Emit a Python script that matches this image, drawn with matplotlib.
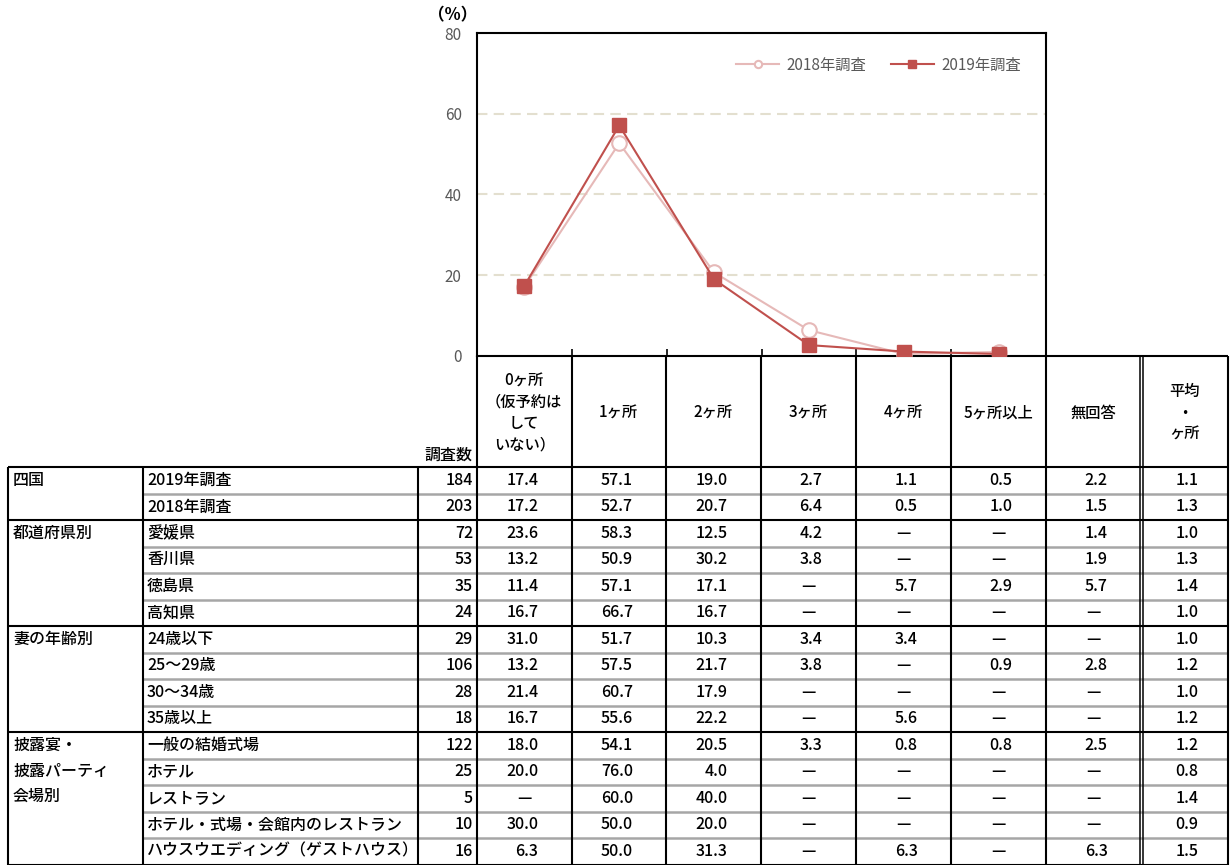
import matplotlib
matplotlib.use("Agg")
import matplotlib.pyplot as plt

plt.rcParams['font.family'] = ['Noto Sans CJK JP', 'DejaVu Sans']

# chart categories / table columns
cats = ["0ヶ所", "1ヶ所", "2ヶ所", "3ヶ所", "4ヶ所", "5ヶ所以上"]
head_labels = ["0ヶ所\n（仮予約は\nして\nいない）", "1ヶ所", "2ヶ所", "3ヶ所",
               "4ヶ所", "5ヶ所以上", "無回答", "平均\n・\nヶ所"]

groups = ["四国", "都道府県別", "妻の年齢別", "披露宴・\n披露パーティ\n会場別"]
group_sizes = [2, 4, 4, 5]
row_labels = ["2019年調査", "2018年調査", "愛媛県", "香川県", "徳島県", "高知県",
              "24歳以下", "25～29歳", "30～34歳", "35歳以上",
              "一般の結婚式場", "ホテル", "レストラン",
              "ホテル・式場・会館内のレストラン", "ハウスウエディング（ゲストハウス）"]
n_resp = [184, 203, 72, 53, 35, 24, 29, 106, 28, 18, 122, 25, 5, 10, 16]

# None = "—"
col_0 = [17.4, 17.2, 23.6, 13.2, 11.4, 16.7, 31.0, 13.2, 21.4, 16.7, 18.0, 20.0, None, 30.0, 6.3]
col_1 = [57.1, 52.7, 58.3, 50.9, 57.1, 66.7, 51.7, 57.5, 60.7, 55.6, 54.1, 76.0, 60.0, 50.0, 50.0]
col_2 = [19.0, 20.7, 12.5, 30.2, 17.1, 16.7, 10.3, 21.7, 17.9, 22.2, 20.5, 4.0, 40.0, 20.0, 31.3]
col_3 = [2.7, 6.4, 4.2, 3.8, None, None, 3.4, 3.8, None, None, 3.3, None, None, None, None]
col_4 = [1.1, 0.5, None, None, 5.7, None, 3.4, None, None, 5.6, 0.8, None, None, None, 6.3]
col_5 = [0.5, 1.0, None, None, 2.9, None, None, 0.9, None, None, 0.8, None, None, None, None]
col_na = [2.2, 1.5, 1.4, 1.9, 5.7, None, None, 2.8, None, None, 2.5, None, None, None, 6.3]
col_avg = [1.1, 1.3, 1.0, 1.3, 1.4, 1.0, 1.0, 1.2, 1.0, 1.2, 1.2, 0.8, 1.4, 0.9, 1.5]
pct_cols = [col_0, col_1, col_2, col_3, col_4, col_5, col_na, col_avg]

# chart series come from the first two table rows
y2019 = [c[0] for c in pct_cols[:6]]
y2018 = [c[1] for c in pct_cols[:6]]

W, H = 1231, 865
fig = plt.figure(figsize=(W / 100, H / 100), dpi=100)

# ---- line chart ----
ax = fig.add_axes([477 / W, 1 - 356 / H, (1046 - 477) / W, (356 - 33) / H])
x = list(range(len(cats)))
ax.plot(x, y2018, color='#e6b9b8', lw=1.5, marker='o', ms=10.5,
        mfc='white', mec='#e6b9b8', mew=1.5, label='2018年調査', zorder=3)
ax.plot(x, y2019, color='#c0504d', lw=1.5, marker='s', ms=10.5,
        mfc='#c0504d', mec='#c0504d', label='2019年調査', zorder=4)
ax.set_xlim(-0.5, 5.5)
ax.set_ylim(0, 80)
ax.set_yticks([0, 20, 40, 60, 80])
ax.tick_params(axis='y', length=0, pad=11, labelsize=11, labelcolor='#595959')
ax.set_xticks([])
ax.set_xticks([i + 0.5 for i in range(5)], minor=True)
ax.tick_params(axis='x', which='minor', direction='in', length=5, width=1.2)
ax.grid(axis='y', color='#e3dfcf', ls=(0, (5, 3)), lw=1.5, zorder=0)
for s in ax.spines.values():
    s.set_color('black')
    s.set_linewidth(1.5)
ax.legend(loc='upper right', bbox_to_anchor=(0.98, 0.97), ncol=2, frameon=False,
          fontsize=11, labelcolor='#595959', markerscale=0.5, handlelength=2.8,
          columnspacing=1.6, handletextpad=0.5)

# ---- table (drawn in pixel coordinates) ----
tx = fig.add_axes([0, 0, 1, 1])
tx.set_xlim(0, W)
tx.set_ylim(H, 0)
tx.axis('off')
tx.patch.set_visible(False)

x_left, x_grp, x_lab, x_n = 8, 143, 418, 477
col_edges = [477, 571.5, 666, 761, 856, 951, 1046, 1141, 1228]
head_top, body_top, row_h = 356, 467, 26.5
n_rows = len(row_labels)
body_bot = body_top + n_rows * row_h
fs = 11.5
fw = 'medium'
lk = dict(color='black', lw=1.5, solid_capstyle='butt')

# header
tx.plot([1046, 1228], [head_top, head_top], **lk)
for xe in col_edges:
    if xe == 1141:
        for xx in (1139.5, 1143):
            tx.plot([xx, xx], [head_top, body_bot], color='black', lw=1.1)
    else:
        tx.plot([xe, xe], [head_top, body_bot], **lk)
for i, lab in enumerate(head_labels):
    cx = (col_edges[i] + col_edges[i + 1]) / 2
    tx.text(cx, 413, lab, ha='center', va='center', fontsize=fs - 0.5,
            fontweight=fw, linespacing=1.35, multialignment='center')
tx.text(448, 464, "調査数", ha='center', va='bottom', fontsize=fs, fontweight=fw)
tx.text(453, 15, "（%）", ha='center', va='center', fontsize=12, fontweight='bold')

# body lines
for xx in (x_left, x_grp, x_lab):
    tx.plot([xx, xx], [body_top, body_bot], **lk)
tx.plot([x_left, 1228], [body_top, body_top], **lk)
r = 0
for g, size in zip(groups, group_sizes):
    tx.text(x_left + 5, body_top + r * row_h + 5, g, ha='left', va='top',
            fontsize=fs, fontweight=fw, linespacing=1.66)
    for k in range(1, size):
        yy = body_top + (r + k) * row_h
        tx.plot([x_grp, 1228], [yy, yy], color='#a6a6a6', lw=1.8,
                solid_capstyle='butt', zorder=1)
    r += size
    yy = body_top + r * row_h
    tx.plot([x_left, 1228], [yy, yy], **lk)

# body text
for i in range(n_rows):
    cy = body_top + (i + 0.5) * row_h
    tx.text(x_grp + 4, cy, row_labels[i], ha='left', va='center', fontsize=fs,
            fontweight=fw)
    tx.text(x_n - 4, cy, str(n_resp[i]), ha='right', va='center', fontsize=fs,
            fontweight=fw)
    for j, col in enumerate(pct_cols):
        cx = (col_edges[j] + col_edges[j + 1]) / 2
        v = col[i]
        if v is None:
            tx.text(cx, cy, "—", ha='center', va='center', fontsize=fs, fontweight=fw)
        else:
            tx.text(cx + 14, cy, f"{v:.1f}", ha='right', va='center', fontsize=fs,
                    fontweight=fw)

fig.savefig("out.png", dpi=100)
